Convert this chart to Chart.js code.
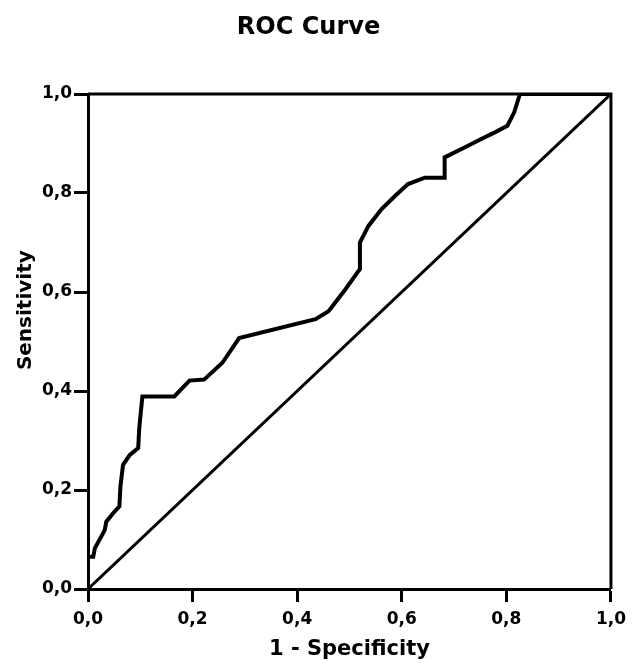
<!DOCTYPE html>
<html>
<head>
<meta charset="utf-8">
<script src="https://cdn.jsdelivr.net/npm/chart.js@4"></script>
<style>
  body { margin: 0; background: #fff; }
  #wrap { width: 633px; height: 663px; }
</style>
</head>
<body>
<div id="wrap"><canvas id="roc_chart"></canvas></div>
<script>
// ROC curve: 1 - specificity / sensitivity
const fprValues = [0, 0, 0.010, 0.013, 0.032, 0.035, 0.048, 0.060, 0.062, 0.067, 0.080, 0.096, 0.098, 0.104,
  0.165, 0.194, 0.222, 0.257, 0.289, 0.435, 0.460, 0.492, 0.517, 0.520, 0.520, 0.536, 0.561, 0.587,
  0.612, 0.644, 0.682, 0.682, 0.720, 0.752, 0.777, 0.802, 0.815, 0.826, 1.0];
const tprValues = [0, 0.065, 0.065, 0.082, 0.119, 0.136, 0.153, 0.167, 0.207, 0.251, 0.271, 0.285, 0.325, 0.389,
  0.389, 0.421, 0.423, 0.457, 0.507, 0.545, 0.561, 0.605, 0.642, 0.646, 0.700, 0.733, 0.767, 0.794,
  0.818, 0.831, 0.831, 0.872, 0.892, 0.909, 0.922, 0.936, 0.963, 1.0, 1.0];
const refX = [0, 1];
const refY = [0, 1];
const tickLabels = ["0,0", "0,2", "0,4", "0,6", "0,8", "1,0"];

Chart.defaults.font.family = "'DejaVu Sans', sans-serif";
Chart.defaults.color = "#000";

const rocPoints = fprValues.map((x, i) => ({ x: x, y: tprValues[i] }));
const refPoints = refX.map((x, i) => ({ x: x, y: refY[i] }));

// top and right side of the frame
const frameBox = {
  id: "frameBox",
  afterDatasetsDraw(chart) {
    const { ctx, chartArea } = chart;
    ctx.save();
    ctx.strokeStyle = "#000";
    ctx.lineWidth = 3;
    ctx.beginPath();
    ctx.moveTo(chartArea.left, chartArea.top);
    ctx.lineTo(chartArea.right, chartArea.top);
    ctx.lineTo(chartArea.right, chartArea.bottom);
    ctx.stroke();
    ctx.restore();
  }
};

const tickFormat = (value) => tickLabels[Math.round(value * 5)];

new Chart("roc_chart", {
  type: "scatter",
  data: {
    datasets: [{
      data: rocPoints,
      showLine: true,
      borderColor: "#000",
      borderWidth: 4,
      pointRadius: 0,
      tension: 0
    }, {
      data: refPoints,
      showLine: true,
      borderColor: "#000",
      borderWidth: 3,
      pointRadius: 0
    }]
  },
  options: {
    responsive: true,
    maintainAspectRatio: false,
    animation: false,
    layout: { padding: { left: 0, right: 16, top: 0, bottom: 0 } },
    plugins: {
      legend: { display: false },
      tooltip: { enabled: false },
      title: {
        display: true,
        text: "ROC Curve",
        font: { size: 24, weight: "bold" },
        color: "#000",
        padding: { top: 13, bottom: 52.2 }
      }
    },
    scales: {
      x: {
        type: "linear",
        min: 0,
        max: 1,
        afterFit(scale) { scale.height = 74; },
        border: { display: true, color: "#000", width: 3 },
        grid: { display: true, drawOnChartArea: false, drawTicks: true, tickLength: 13, tickWidth: 3, tickColor: "#000" },
        ticks: { stepSize: 0.2, padding: 7, maxRotation: 0, font: { size: 17, weight: "bold" }, callback: tickFormat },
        title: { display: true, text: "1 - Specificity", font: { size: 21, weight: "bold" }, padding: { top: 0, bottom: 1 } }
      },
      y: {
        type: "linear",
        min: 0,
        max: 1,
        afterFit(scale) { scale.width = 88; },
        border: { display: true, color: "#000", width: 3 },
        grid: { display: true, drawOnChartArea: false, drawTicks: true, tickLength: 14, tickWidth: 3, tickColor: "#000" },
        ticks: { stepSize: 0.2, padding: 2, font: { size: 17, weight: "bold" }, callback: tickFormat },
        title: { display: true, text: "         Sensitivity", font: { size: 20, weight: "bold" }, padding: { top: 14, bottom: 0 } }
      }
    }
  },
  plugins: [frameBox]
});
</script>
</body>
</html>
